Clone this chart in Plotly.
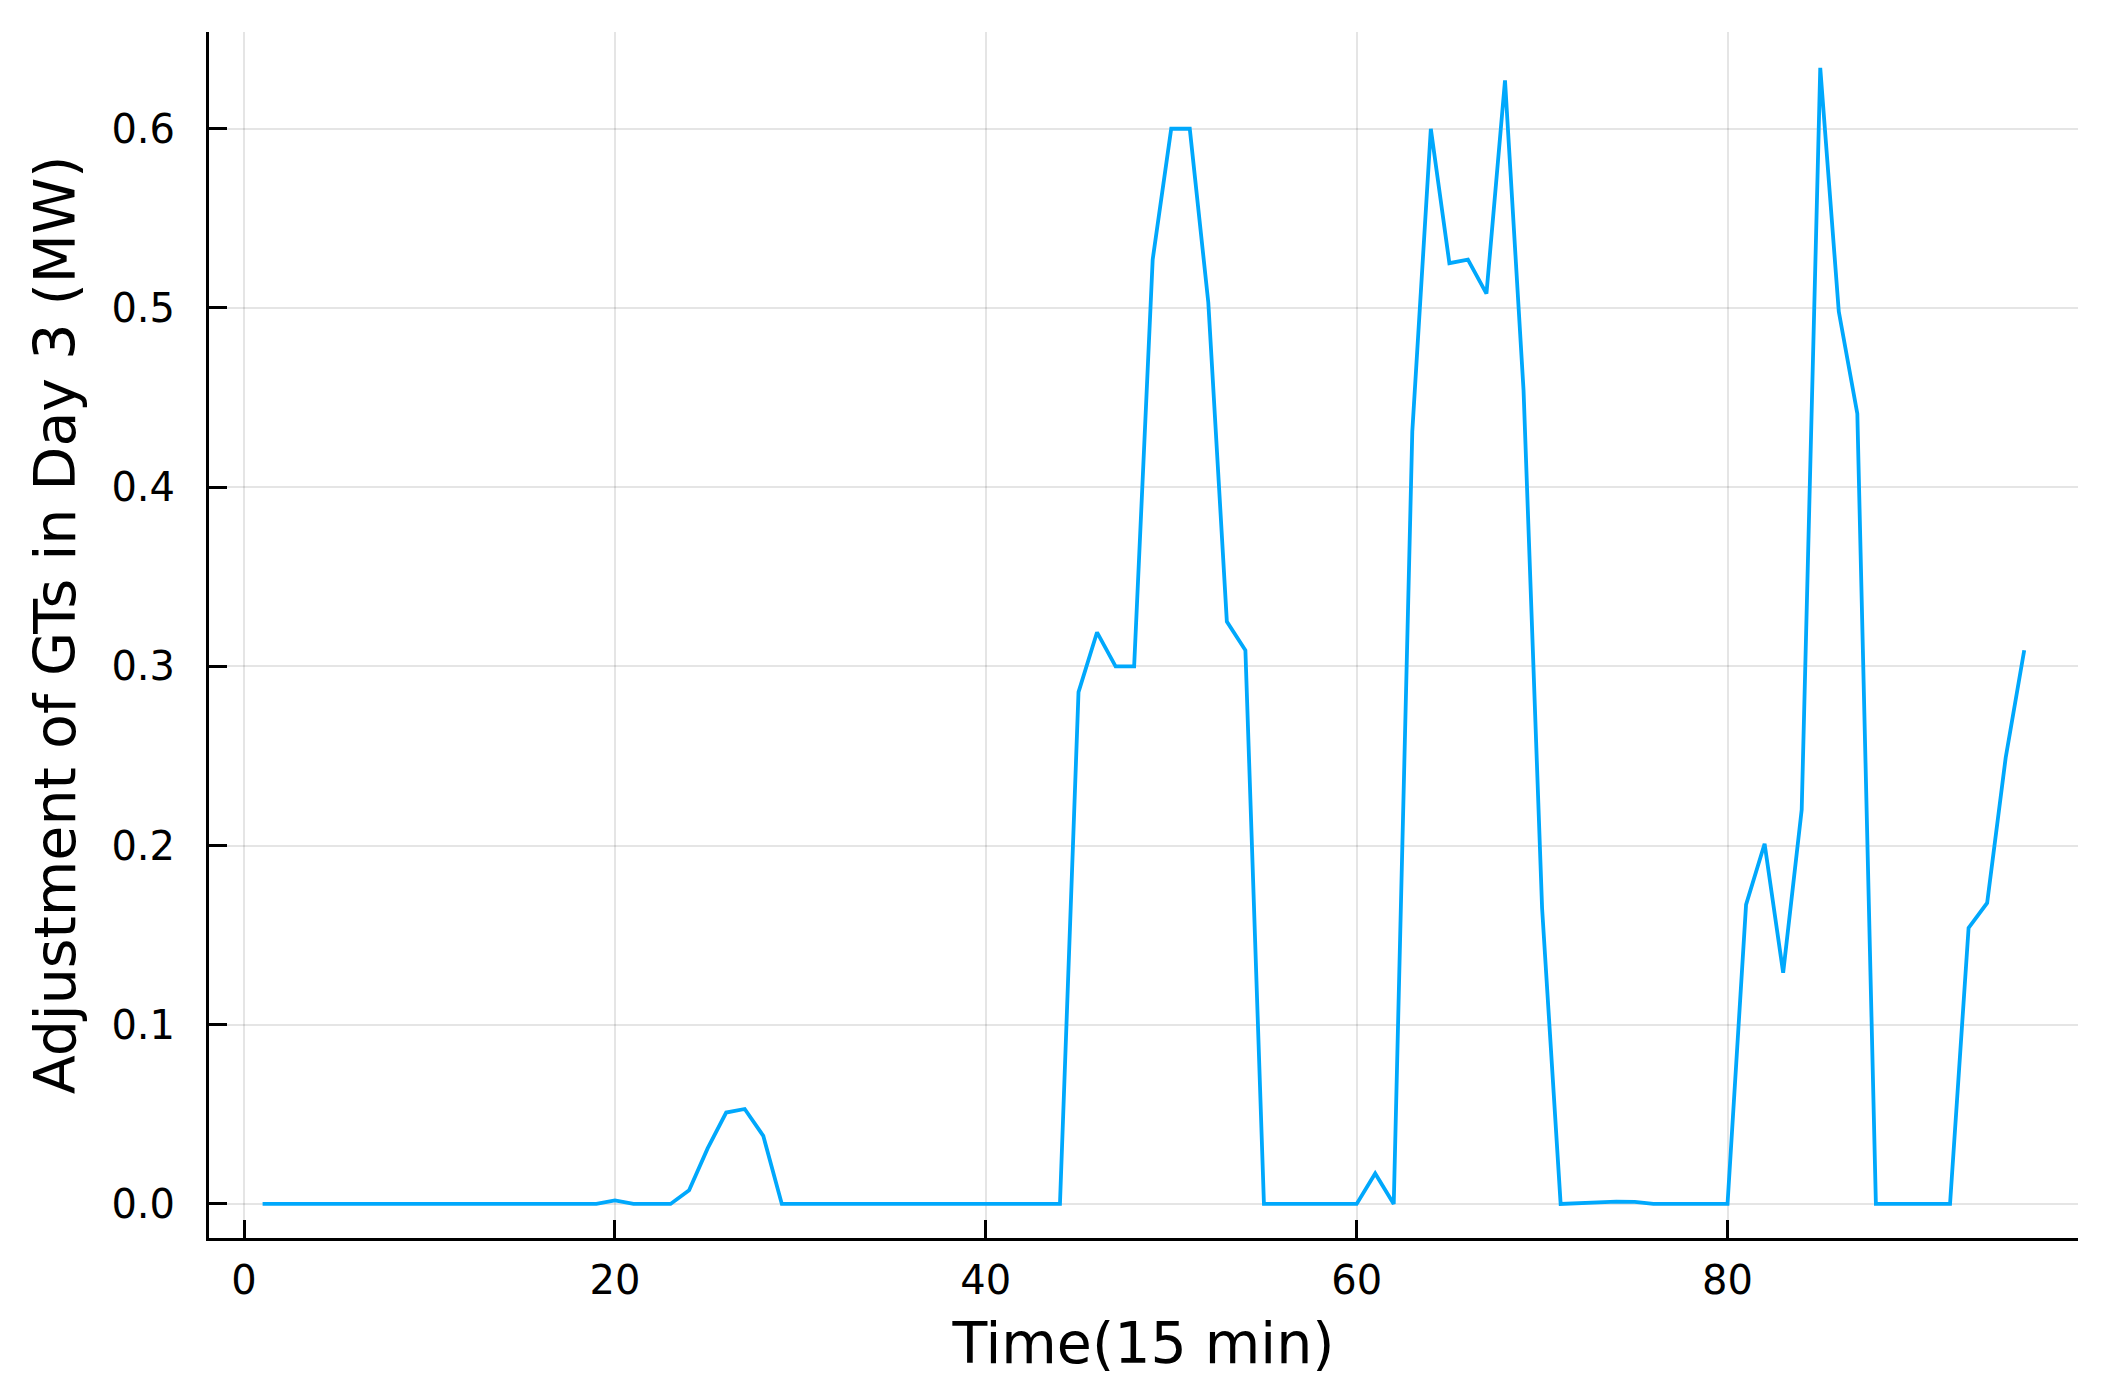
import plotly.graph_objects as go

# time steps (15 min each) and GT adjustment values on day 3
time_steps = list(range(1, 97))
gt_adjustment = [
    0, 0, 0, 0, 0, 0, 0, 0, 0, 0, 0, 0,
    0, 0, 0, 0, 0, 0, 0, 0.002, 0, 0, 0, 0.0076,
    0.031, 0.051, 0.053, 0.038, 0, 0, 0, 0, 0, 0, 0, 0,
    0, 0, 0, 0, 0, 0, 0, 0, 0.2856, 0.319, 0.300, 0.300,
    0.527, 0.600, 0.600, 0.503, 0.325, 0.309, 0, 0, 0, 0, 0, 0,
    0.017, 0, 0.431, 0.600, 0.525, 0.527, 0.508, 0.627, 0.454, 0.165, 0, 0.0005,
    0.0012, 0.0013, 0.0012, 0, 0, 0, 0, 0, 0.167, 0.201, 0.129, 0.220,
    0.634, 0.498, 0.441, 0, 0, 0, 0, 0, 0.154, 0.168, 0.249, 0.309,
]

x_ticks = [0, 20, 40, 60, 80]
y_ticks = [0.0, 0.1, 0.2, 0.3, 0.4, 0.5, 0.6]
y_tick_labels = ["0.0", "0.1", "0.2", "0.3", "0.4", "0.5", "0.6"]

fig = go.Figure(
    go.Scatter(
        x=time_steps,
        y=gt_adjustment,
        mode="lines",
        line=dict(color="#00A8FC", width=3.8),
        showlegend=False,
    )
)

axis_style = dict(
    showline=True,
    linecolor="black",
    linewidth=3,
    mirror=False,
    ticks="inside",
    ticklen=18,
    tickwidth=3,
    tickcolor="black",
    showgrid=True,
    gridcolor="rgba(0,0,0,0.1)",
    gridwidth=1.5,
    zeroline=False,
    tickfont=dict(family="DejaVu Sans", size=40, color="black"),
)

fig.update_xaxes(
    range=[-1.89, 98.9],
    tickvals=x_ticks,
    title=dict(text="Time(15 min)", font=dict(family="DejaVu Sans", size=57, color="black"), standoff=22),
    ticklabelstandoff=5,
    **axis_style,
)
fig.update_yaxes(
    range=[-0.019, 0.654],
    tickvals=y_ticks,
    ticktext=y_tick_labels,
    ticklabelstandoff=23,
    **axis_style,
)

# y title as an annotation so it can sit a little above the plot centre
fig.add_annotation(
    text="Adjustment of GTs in Day 3 (MW)",
    textangle=-90,
    xref="paper", yref="paper",
    x=0, y=0.508,
    xanchor="center", yanchor="middle",
    xshift=-154,
    showarrow=False,
    font=dict(family="DejaVu Sans", size=57, color="black"),
)

fig.update_layout(
    width=2103,
    height=1400,
    margin=dict(l=209, r=25, t=32, b=162),
    plot_bgcolor="white",
    paper_bgcolor="white",
    font=dict(family="DejaVu Sans", color="black"),
)

# drop the default page margin so the figure sits at the window corner
fig.write_html(
    "out.html",
    config={"displayModeBar": False},
    post_script="document.body.style.margin='0';",
)
